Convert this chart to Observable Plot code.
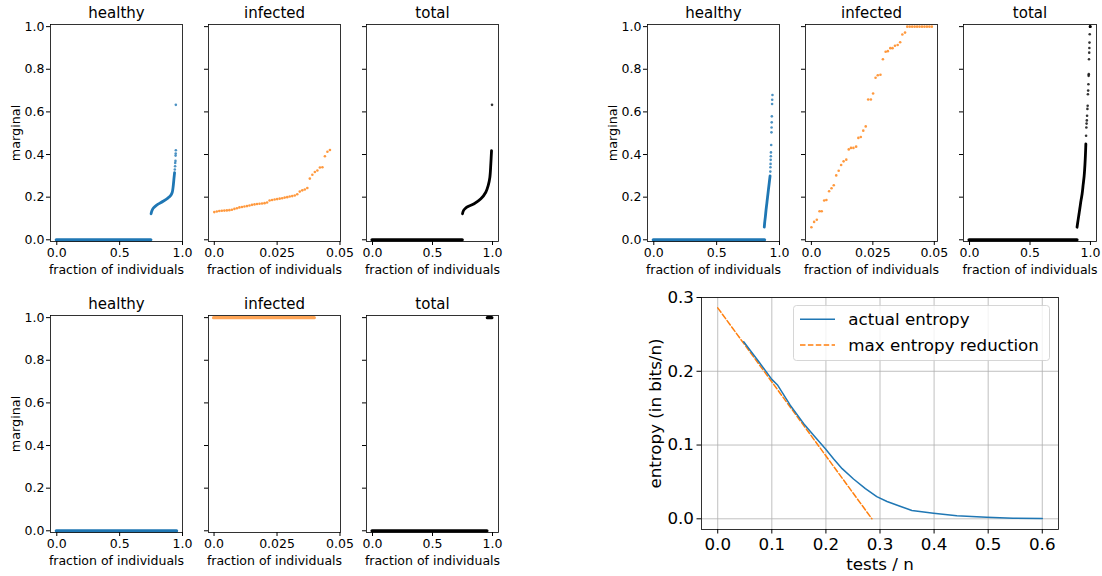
<!DOCTYPE html>
<html><head><meta charset="utf-8">
<script src="https://cdn.jsdelivr.net/npm/d3@7"></script>
<script src="https://cdn.jsdelivr.net/npm/@observablehq/plot@0.6"></script>
<style>
body{margin:0;background:#fff;font-family:"DejaVu Sans",sans-serif;}
#fig{position:relative;width:1102px;height:576px;overflow:hidden;background:#fff}
#fig svg{position:absolute;left:0;top:0}
</style></head><body><div id="fig"></div>
<script>
// ---------- labels & ticks ----------
const panelTitles = ["healthy", "infected", "total"];
const xLabel = "fraction of individuals";
const yLabel = "marginal";
const marginalTicks = [0, 0.2, 0.4, 0.6, 0.8, 1.0];
const fractionTicks = [0, 0.5, 1.0];
const infectedTicks = [0, 0.025, 0.05];

// ---------- run A (top-left) ----------
const aHealthyBands = [{x1: 0, x2: 0.752, y: 0}];
const aHealthyCurve = [[0.750,0.122],[0.756,0.135],[0.767,0.148],[0.785,0.158],[0.806,0.167],[0.846,0.181],[0.886,0.197],[0.905,0.207],[0.918,0.222],[0.925,0.246],[0.933,0.293],[0.937,0.315]];
const aHealthySparse = [[0.939,0.330],[0.941,0.345],[0.942,0.360],[0.944,0.370],[0.945,0.395],[0.946,0.405],[0.947,0.420],[0.947,0.633]];
const aInfected = [[0.000,0.130],[0.001,0.133],[0.002,0.135],[0.003,0.136],[0.004,0.137],[0.005,0.138],[0.006,0.139],[0.007,0.141],[0.008,0.145],[0.009,0.148],[0.010,0.152],[0.011,0.154],[0.012,0.156],[0.013,0.158],[0.014,0.161],[0.015,0.164],[0.016,0.166],[0.017,0.168],[0.018,0.169],[0.019,0.170],[0.020,0.172],[0.021,0.175],[0.022,0.184],[0.023,0.187],[0.024,0.189],[0.025,0.191],[0.026,0.193],[0.027,0.195],[0.028,0.198],[0.029,0.200],[0.030,0.203],[0.031,0.205],[0.032,0.208],[0.033,0.214],[0.034,0.226],[0.035,0.232],[0.036,0.236],[0.037,0.243],[0.038,0.287],[0.039,0.305],[0.040,0.318],[0.041,0.325],[0.042,0.339],[0.043,0.340],[0.044,0.392],[0.045,0.413],[0.046,0.421]];
const aTotalBands = [{x1: 0, x2: 0.752, y: 0}];
const aTotalCurve = [[0.750,0.122],[0.758,0.137],[0.775,0.148],[0.792,0.155],[0.847,0.169],[0.903,0.192],[0.944,0.223],[0.964,0.254],[0.978,0.293],[0.986,0.356],[0.992,0.418]];
const aTotalSparse = [[0.996,0.633]];

// ---------- run B (top-right) ----------
const bHealthyBands = [{x1: 0, x2: 0.885, y: 0}];
const bHealthyCurve = [[0.879,0.059],[0.882,0.080],[0.887,0.105],[0.893,0.140],[0.899,0.170],[0.905,0.200],[0.912,0.235],[0.918,0.265],[0.925,0.300]];
const bHealthySparse = [[0.927,0.320],[0.928,0.340],[0.929,0.356],[0.930,0.375],[0.931,0.392],[0.932,0.410],[0.934,0.445],[0.936,0.504],[0.937,0.527],[0.938,0.551],[0.939,0.579],[0.941,0.637],[0.942,0.657],[0.944,0.679]];
const bInfected = [[0.0000,0.059],[0.0011,0.084],[0.0022,0.094],[0.0033,0.134],[0.0042,0.134],[0.0052,0.184],[0.0061,0.187],[0.0072,0.228],[0.0082,0.242],[0.0091,0.256],[0.0101,0.302],[0.0111,0.324],[0.0121,0.351],[0.0131,0.368],[0.0142,0.376],[0.0152,0.424],[0.0161,0.431],[0.0171,0.431],[0.0182,0.437],[0.0191,0.478],[0.0201,0.482],[0.0211,0.512],[0.0221,0.532],[0.0231,0.658],[0.0242,0.658],[0.0251,0.686],[0.0261,0.760],[0.0270,0.772],[0.0281,0.774],[0.0291,0.847],[0.0302,0.882],[0.0311,0.885],[0.0321,0.899],[0.0330,0.899],[0.0340,0.910],[0.0351,0.914],[0.0361,0.927],[0.0370,0.963],[0.0381,0.972],[0.0390,1.0],[0.0400,1.0],[0.0410,1.0],[0.0420,1.0],[0.0430,1.0],[0.0440,1.0],[0.0450,1.0],[0.0460,1.0],[0.0470,1.0],[0.0480,1.0],[0.0490,1.0]];
const bTotalBands = [{x1: 0, x2: 0.893, y: 0}];
const bTotalCurve = [[0.889,0.059],[0.897,0.090],[0.905,0.120],[0.913,0.150],[0.922,0.185],[0.931,0.215],[0.940,0.260],[0.948,0.300],[0.953,0.340],[0.957,0.380],[0.960,0.420],[0.962,0.450]];
const bTotalSparse = [[0.964,0.488],[0.966,0.527],[0.968,0.545],[0.970,0.560],[0.972,0.582],[0.975,0.614],[0.977,0.629],[0.979,0.683],[0.981,0.700],[0.983,0.730],[0.985,0.769],[0.986,0.777],[0.988,0.847],[0.990,0.878],[0.991,0.900],[0.992,0.925],[0.994,0.964],[0.996,1.0],[0.997,1.0],[0.998,1.0],[0.999,1.0]];

// ---------- run C (bottom-left) ----------
const cHealthyBands = [{x1: 0, x2: 0.957, y: 0}];
const cInfectedBands = [{x1: 0, x2: 0.040, y: 1}];
const cTotalBands = [{x1: 0, x2: 0.958, y: 0}, {x1: 0.961, x2: 0.999, y: 1}];

// ---------- entropy (bottom-right) ----------
const testsPerN = [0.048,0.076,0.100,0.111,0.134,0.159,0.180,0.199,0.214,0.230,0.251,0.273,0.294,0.313,0.337,0.359,0.399,0.442,0.497,0.546,0.600];
const actualEntropy = [0.240,0.213,0.189,0.181,0.154,0.129,0.111,0.095,0.0815,0.068,0.054,0.041,0.030,0.0235,0.017,0.0113,0.0076,0.0041,0.0022,0.0008,0.0004];
const maxReductionX = [0.0, 0.285];
const maxReductionY = [0.286, 0.0];
const entropyXTicks = [0, 0.1, 0.2, 0.3, 0.4, 0.5, 0.6];
const entropyYTicks = [0, 0.1, 0.2, 0.3];
const legendLabels = ["actual entropy", "max entropy reduction"];

// ---------- drawing ----------
const W = 1102, H = 576;
const BLUE = "#1f77b4", ORANGE = "#ff7f0e", BLACK = "#000000";
const fig = document.getElementById("fig");
const FONT = "DejaVu Sans, sans-serif";

function panel({frame, xDomain, xTicks, xFmt, yLabels, title, color, bands = [], curve = [], dots = [], bandOpacity = 1}) {
  const [l, r, t, b] = frame;
  return Plot.plot({
    width: W, height: H,
    marginLeft: l, marginRight: W - r, marginTop: t, marginBottom: H - b,
    style: {background: "transparent", fontFamily: FONT, overflow: "visible"},
    x: {domain: xDomain},
    y: {domain: [-0.008, 1.01]},
    marks: [
      Plot.ruleY(bands, {y: "y", x1: "x1", x2: "x2", stroke: color, strokeWidth: 3.2, strokeLinecap: "round", strokeOpacity: bandOpacity}),
      Plot.line(curve, {x: d => d[0], y: d => d[1], stroke: color, strokeWidth: 2.8, strokeLinecap: "round", curve: "catmull-rom"}),
      Plot.dot(dots, {x: d => d[0], y: d => d[1], r: 1.3, fill: color, fillOpacity: 0.8, stroke: null}),
      Plot.frame({stroke: "black", strokeWidth: 0.8}),
      Plot.axisX(xTicks, {tickSize: 4, tickPadding: 3, fontSize: 12.5, tickFormat: xFmt, label: null}),
      Plot.axisY(marginalTicks, {tickSize: 4, tickPadding: 2, fontSize: 12.5, tickFormat: yLabels ? d => d.toFixed(1) : () => "", label: null}),
      Plot.text([title], {frameAnchor: "top", dy: -6.7, lineAnchor: "bottom", textAnchor: "middle", fontSize: 15}),
      Plot.text([xLabel], {frameAnchor: "bottom", dy: 32, lineAnchor: "bottom", textAnchor: "middle", fontSize: 12.5}),
      yLabels ? Plot.text([yLabel], {frameAnchor: "left", dx: -31, rotate: -90, lineAnchor: "bottom", textAnchor: "middle", fontSize: 12.8}) : null
    ]
  });
}

const fracFmt = d => d.toFixed(1);
const infFmt = d => d === 0 ? "0.0" : String(d);

function group(cols, top, bottom, runs, infDomain) {
  const specs = [
    {xDomain: [-0.05, 1.0], xTicks: fractionTicks, xFmt: fracFmt, color: BLUE},
    {xDomain: infDomain, xTicks: infectedTicks, xFmt: infFmt, color: ORANGE},
    {xDomain: [-0.05, 1.05], xTicks: fractionTicks, xFmt: fracFmt, color: BLACK}
  ];
  specs.forEach((s, i) => {
    fig.appendChild(panel({
      frame: [cols[i][0], cols[i][1], top, bottom],
      xDomain: s.xDomain, xTicks: s.xTicks, xFmt: s.xFmt, color: s.color,
      yLabels: i === 0, title: panelTitles[i], ...runs[i]
    }));
  });
}

// top-left
group([[50, 182], [208, 340], [366, 498]], 24, 241, [
  {bands: aHealthyBands, curve: aHealthyCurve, dots: aHealthySparse},
  {dots: aInfected},
  {bands: aTotalBands, curve: aTotalCurve, dots: aTotalSparse}
], [-0.0023, 0.0502]);

// top-right
group([[647, 779], [805, 937], [963, 1096]], 24, 241, [
  {bands: bHealthyBands, curve: bHealthyCurve, dots: bHealthySparse},
  {dots: bInfected},
  {bands: bTotalBands, curve: bTotalCurve, dots: bTotalSparse}
], [-0.0024, 0.0513]);

// bottom-left
group([[50, 182], [208, 340], [366, 498]], 315, 532, [
  {bands: cHealthyBands},
  {bands: cInfectedBands, bandOpacity: 0.7},
  {bands: cTotalBands}
], [-0.0022, 0.0502]);

// bottom-right entropy chart
const actual = testsPerN.map((x, i) => ({x, y: actualEntropy[i]}));
const maxRed = maxReductionX.map((x, i) => ({x, y: maxReductionY[i]}));
const ef = [701, 1058, 297, 529];
fig.appendChild(Plot.plot({
  width: W, height: H,
  marginLeft: ef[0], marginRight: W - ef[1], marginTop: ef[2], marginBottom: H - ef[3],
  style: {background: "transparent", fontFamily: FONT, overflow: "visible"},
  x: {domain: [-0.03, 0.63]},
  y: {domain: [-0.0145, 0.3]},
  marks: [
    Plot.gridX(entropyXTicks, {stroke: "#b0b0b0", strokeOpacity: 1, strokeWidth: 0.8}),
    Plot.gridY(entropyYTicks, {stroke: "#b0b0b0", strokeOpacity: 1, strokeWidth: 0.8}),
    Plot.line(maxRed, {x: "x", y: "y", stroke: ORANGE, strokeWidth: 1.5, strokeDasharray: "5.5,2.4"}),
    Plot.line(actual, {x: "x", y: "y", stroke: BLUE, strokeWidth: 1.5}),
    Plot.frame({stroke: "black", strokeWidth: 0.8}),
    Plot.axisX(entropyXTicks, {tickSize: 4.5, tickPadding: 4.5, fontSize: 16.7, tickFormat: d => d.toFixed(1), label: null}),
    Plot.axisY(entropyYTicks, {tickSize: 4.5, tickPadding: 3, fontSize: 16.7, tickFormat: d => d.toFixed(1), label: null}),
    Plot.text(["tests / n"], {frameAnchor: "bottom", dy: 40, lineAnchor: "bottom", textAnchor: "middle", fontSize: 16.7}),
    Plot.text(["entropy (in bits/n)"], {frameAnchor: "left", dx: -41, rotate: -90, lineAnchor: "bottom", textAnchor: "middle", fontSize: 16.7})
  ]
}));

// legend
const lg = d3.select(fig).append("svg").attr("width", W).attr("height", H)
  .style("font-family", FONT);
lg.append("rect").attr("x", 793.5).attr("y", 305.5).attr("width", 256).attr("height", 55).attr("rx", 3)
  .attr("fill", "white").attr("fill-opacity", 0.8).attr("stroke", "#cccccc").attr("stroke-width", 0.8);
const legendStyles = [{stroke: BLUE, dash: null, y: 319.3}, {stroke: ORANGE, dash: "5.5,2.4", y: 345}];
legendLabels.forEach((lab, i) => {
  const s = legendStyles[i];
  lg.append("line").attr("x1", 800).attr("x2", 835).attr("y1", s.y).attr("y2", s.y)
    .attr("stroke", s.stroke).attr("stroke-width", 1.5).attr("stroke-dasharray", s.dash);
  lg.append("text").attr("x", 848.3).attr("y", s.y + 5.8).attr("font-size", 16.7).attr("fill", "black").text(lab);
});
</script>
</body></html>
